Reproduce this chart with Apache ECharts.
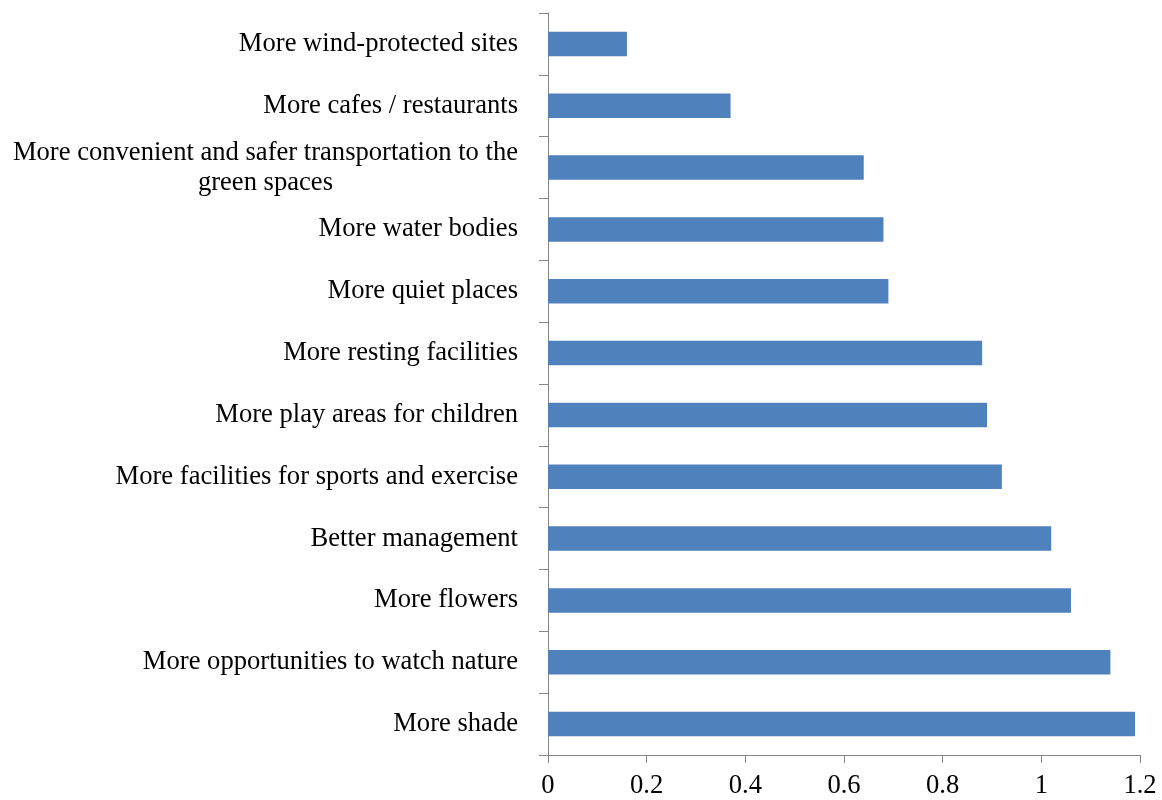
<!DOCTYPE html>
<html>
<head>
<meta charset="utf-8">
<title>Desired improvements to green spaces</title>
<script src="https://cdn.jsdelivr.net/npm/echarts@6/dist/echarts.min.js"></script>
<style>
  html, body { margin: 0; padding: 0; background: #ffffff; }
  #chart { width: 1162px; height: 800px; }
</style>
</head>
<body>
<div id="chart"></div>
<script>
// Categories listed top to bottom
const categories = [
  'More wind-protected sites',
  'More cafes / restaurants',
  'More convenient and safer transportation to the\ngreen spaces',
  'More water bodies',
  'More quiet places',
  'More resting facilities',
  'More play areas for children',
  'More facilities for sports and exercise',
  'Better management',
  'More flowers',
  'More opportunities to watch nature',
  'More shade'
];

const values = [0.16, 0.37, 0.64, 0.68, 0.69, 0.88, 0.89, 0.92, 1.02, 1.06, 1.14, 1.19];

const xTicks = [0, 0.2, 0.4, 0.6, 0.8, 1, 1.2];

const FONT = '"Liberation Serif", "Times New Roman", serif';
const FONT_SIZE = 26.6;
const AXIS_COLOR = '#868686';

const chart = echarts.init(document.getElementById('chart'), null, { renderer: 'canvas' });

chart.setOption({
  animation: false,
  backgroundColor: '#ffffff',
  grid: {
    left: 548,
    right: 22,
    top: 13,
    bottom: 45,
    containLabel: false
  },
  xAxis: {
    type: 'value',
    min: xTicks[0],
    max: xTicks[xTicks.length - 1],
    interval: xTicks[1] - xTicks[0],
    axisLine: { show: true, lineStyle: { color: AXIS_COLOR, width: 1 } },
    axisTick: { show: true, length: 8, lineStyle: { color: AXIS_COLOR } },
    splitLine: { show: false },
    axisLabel: {
      margin: 18,
      color: '#000000',
      fontFamily: FONT,
      fontSize: FONT_SIZE,
      formatter: v => String(+v.toFixed(1))
    }
  },
  yAxis: {
    type: 'category',
    inverse: true,
    data: categories,
    axisLine: { show: true, lineStyle: { color: AXIS_COLOR, width: 1 } },
    axisTick: { show: true, length: 9, alignWithLabel: false, lineStyle: { color: AXIS_COLOR } },
    splitLine: { show: false },
    axisLabel: {
      margin: 30,
      color: '#000000',
      fontFamily: FONT,
      fontSize: FONT_SIZE,
      interval: 0,
      formatter: name => name.split('\n').map(line => '{c|' + line + '}').join('\n'),
      rich: {
        c: {
          align: 'center',
          color: '#000000',
          fontFamily: FONT,
          fontSize: FONT_SIZE,
          lineHeight: 30
        }
      }
    }
  },
  series: [{
    type: 'bar',
    data: values,
    barWidth: '39.5%',
    itemStyle: { color: '#4F81BD' }
  }]
});
</script>
</body>
</html>
